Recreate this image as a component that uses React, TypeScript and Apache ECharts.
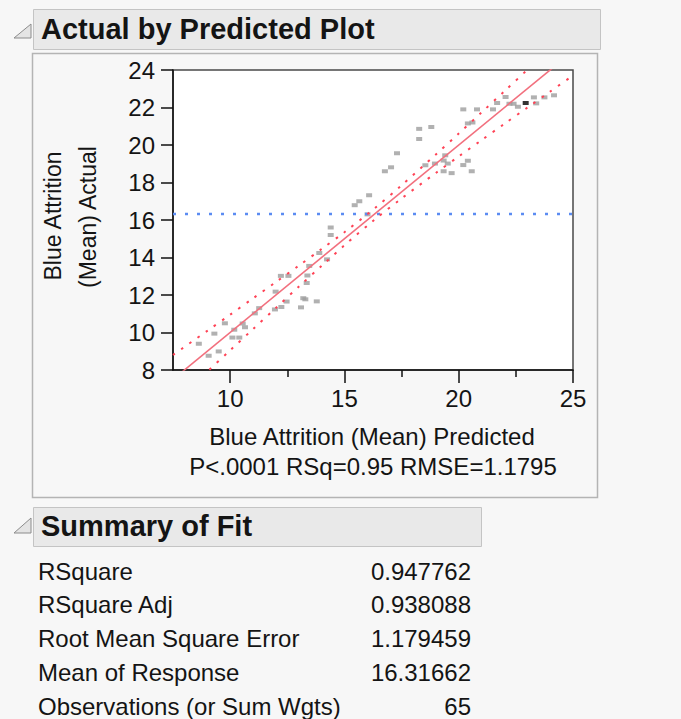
import React, { useEffect, useRef } from "react";
import * as echarts from "echarts";

// ---- data ----
const xMajorTicks = [10, 15, 20, 25];
const xMinorTicks = [12.5, 17.5, 22.5];

const predicted = [
  8.63, 9.06, 9.5, 9.31, 9.77, 10.1, 10.4, 10.18, 10.55, 10.65,
  11.08, 11.27, 11.96, 12.24, 12.47, 11.99, 12.22, 12.55, 13.1, 13.2,
  13.29, 13.79, 13.35, 13.38, 13.46, 13.9, 14.24, 14.4, 14.4, 15.45,
  15.65, 16.08, 16.01, 16.77, 17.04, 17.3, 18.27, 18.27, 18.8, 18.54,
  18.96, 19.34, 19.41, 19.52, 19.34, 19.69, 20.2, 20.4, 20.57, 20.2,
  20.8, 21.5, 20.4, 20.6, 21.68, 22.05, 22.22, 22.4, 22.59, 23.29,
  23.39, 23.75, 24.17,
];
const actual = [
  9.4, 8.76, 8.99, 9.94, 10.49, 9.73, 9.73, 10.15, 10.48, 10.28,
  11.02, 11.3, 11.23, 11.36, 11.65, 12.18, 13.02, 13.02, 11.34, 11.83,
  11.77, 11.66, 12.64, 13.04, 13.55, 14.24, 13.9, 15.2, 15.6, 16.79,
  17.0, 17.32, 16.3, 18.6, 18.81, 19.56, 20.32, 20.86, 20.96, 18.92,
  19.01, 19.17, 19.45, 19.01, 18.6, 18.5, 18.93, 19.16, 18.6, 21.9,
  21.9, 21.9, 21.15, 21.2, 22.24, 22.56, 22.2, 22.2, 22.04, 22.54,
  22.22, 22.54, 22.65,
];
const selectedPredicted = [22.93];
const selectedActual = [22.24];

const fitLineX = [7.5, 25];
const fitLineY = [7.5, 25];

const bandX = [7.5, 9, 10, 11, 12, 13, 14, 15, 16.3, 17.5, 19, 20, 21, 22, 23, 24, 25];
const upperBand = [8.8, 10.09, 10.95, 11.82, 12.69, 13.56, 14.45, 15.35, 16.6, 17.85, 19.49, 20.61, 21.74, 22.87, 24.01, 25.15, 26.29];
const lowerBand = [6.2, 7.91, 9.05, 10.18, 11.31, 12.44, 13.55, 14.65, 16.0, 17.15, 18.51, 19.39, 20.26, 21.13, 21.99, 22.85, 23.71];

const meanResponse = 16.31662;

const summaryLabels = [
  "RSquare",
  "RSquare Adj",
  "Root Mean Square Error",
  "Mean of Response",
  "Observations (or Sum Wgts)",
];
const summaryValues = ["0.947762", "0.938088", "1.179459", "16.31662", "65"];

const FONT = "'Liberation Sans', Arial, sans-serif";

export default function App() {
  const ref = useRef<HTMLDivElement>(null);

  useEffect(() => {
    if (!ref.current) return;
    const chart = echarts.init(ref.current, undefined, { renderer: "svg" });

    const tickColor = "#111";
    const rowY = [571, 604, 638, 672, 706];

    const graphic: any[] = [
      // Title header
      {
        type: "polygon",
        shape: { points: [[14, 38], [31, 24], [31, 38]] },
        style: { fill: "#e4e4e4", stroke: "#8c8c8c", lineWidth: 1 },
      },
      {
        type: "rect",
        shape: { x: 33.5, y: 9.5, width: 567, height: 40 },
        style: { fill: "#e9e9e9", stroke: "#c4c4c4", lineWidth: 1 },
      },
      {
        type: "text",
        x: 41,
        y: 29,
        style: {
          text: "Actual by Predicted Plot",
          font: `bold 29px ${FONT}`,
          fill: "#141414",
          align: "left",
          verticalAlign: "middle",
        },
      },
      // Frame around the plot
      {
        type: "rect",
        shape: { x: 32.5, y: 53.5, width: 565, height: 444 },
        style: { fill: "none", stroke: "#b4b4b4", lineWidth: 1.5 },
      },
      // Y-axis title (two lines)
      {
        type: "text",
        x: 53,
        y: 216,
        rotation: Math.PI / 2,
        style: {
          text: "Blue Attrition",
          font: `23px ${FONT}`,
          fill: "#141414",
          align: "center",
          verticalAlign: "middle",
        },
      },
      {
        type: "text",
        x: 88,
        y: 217,
        rotation: Math.PI / 2,
        style: {
          text: "(Mean) Actual",
          font: `23px ${FONT}`,
          fill: "#141414",
          align: "center",
          verticalAlign: "middle",
        },
      },
      // X-axis title and stats line
      {
        type: "text",
        x: 372,
        y: 436,
        style: {
          text: "Blue Attrition (Mean) Predicted",
          font: `24px ${FONT}`,
          fill: "#141414",
          align: "center",
          verticalAlign: "middle",
        },
      },
      {
        type: "text",
        x: 373,
        y: 466,
        style: {
          text: "P<.0001 RSq=0.95 RMSE=1.1795",
          font: `24px ${FONT}`,
          fill: "#141414",
          align: "center",
          verticalAlign: "middle",
        },
      },
      // Summary header
      {
        type: "polygon",
        shape: { points: [[14, 533], [31, 518], [31, 533]] },
        style: { fill: "#e4e4e4", stroke: "#8c8c8c", lineWidth: 1 },
      },
      {
        type: "rect",
        shape: { x: 33.5, y: 507.5, width: 448, height: 39 },
        style: { fill: "#e9e9e9", stroke: "#c4c4c4", lineWidth: 1 },
      },
      {
        type: "text",
        x: 41,
        y: 526,
        style: {
          text: "Summary of Fit",
          font: `bold 29px ${FONT}`,
          fill: "#141414",
          align: "left",
          verticalAlign: "middle",
        },
      },
    ];

    summaryLabels.forEach((lab, i) => {
      graphic.push({
        type: "text",
        x: 38,
        y: rowY[i],
        style: {
          text: lab,
          font: `24px ${FONT}`,
          fill: "#141414",
          align: "left",
          verticalAlign: "middle",
        },
      });
      graphic.push({
        type: "text",
        x: 471,
        y: rowY[i],
        style: {
          text: summaryValues[i],
          font: `24px ${FONT}`,
          fill: "#141414",
          align: "right",
          verticalAlign: "middle",
        },
      });
    });

    const option: any = {
      animation: false,
      backgroundColor: "#f7f7f7",
      textStyle: { fontFamily: FONT },
      grid: {
        left: 173,
        top: 70,
        width: 400,
        height: 300,
        show: true,
        backgroundColor: "#ffffff",
        borderColor: "#4a4a4a",
        borderWidth: 1.5,
        containLabel: false,
      },
      xAxis: [
        {
          type: "value",
          min: 7.5,
          max: 25,
          interval: 2.5,
          position: "bottom",
          axisLine: { show: true, onZero: false, lineStyle: { color: tickColor, width: 1.5 } },
          splitLine: { show: false },
          axisTick: {
            show: true,
            customValues: xMajorTicks,
            length: 13,
            lineStyle: { color: tickColor, width: 1.5 },
          },
          axisLabel: {
            customValues: xMajorTicks,
            fontSize: 24,
            color: "#141414",
            margin: 16,
            fontFamily: FONT,
          },
        },
        {
          type: "value",
          gridIndex: 0,
          min: 7.5,
          max: 25,
          interval: 2.5,
          position: "bottom",
          axisLine: { show: false, onZero: false },
          splitLine: { show: false },
          axisTick: {
            show: true,
            customValues: xMinorTicks,
            length: 7,
            lineStyle: { color: tickColor, width: 1.5 },
          },
          axisLabel: { show: false },
        },
      ],
      yAxis: {
        type: "value",
        min: 8,
        max: 24,
        interval: 2,
        axisLine: { show: true, onZero: false, lineStyle: { color: tickColor, width: 1.5 } },
        splitLine: { show: false },
        axisTick: { show: true, length: 12, lineStyle: { color: tickColor, width: 1.5 } },
        axisLabel: { fontSize: 24, color: "#141414", margin: 18, fontFamily: FONT },
      },
      graphic,
      series: [
        {
          type: "scatter",
          name: "Observations",
          symbol: "rect",
          symbolSize: [6, 4],
          itemStyle: { color: "#9e9e9e" },
          data: predicted.map((p, i) => [p, actual[i]]),
          z: 2,
        },
        {
          type: "scatter",
          name: "Selected",
          symbol: "rect",
          symbolSize: [6, 4],
          itemStyle: { color: "#000000" },
          data: selectedPredicted.map((p, i) => [p, selectedActual[i]]),
          z: 2,
        },
        {
          type: "line",
          name: "Mean",
          showSymbol: false,
          clip: true,
          lineStyle: { color: "#5b8cf2", width: 2.5, type: [3, 9] },
          data: [[7.5, meanResponse], [25, meanResponse]],
          z: 3,
        },
        {
          type: "line",
          name: "Fit",
          showSymbol: false,
          clip: true,
          lineStyle: { color: "#f2707e", width: 1.6 },
          data: fitLineX.map((x, i) => [x, fitLineY[i]]),
          z: 4,
        },
        {
          type: "line",
          name: "Upper",
          showSymbol: false,
          clip: true,
          smooth: 0.3,
          lineStyle: { color: "#ff4255", width: 2, type: [2.5, 7.5] },
          data: bandX.map((x, i) => [x, upperBand[i]]),
          z: 4,
        },
        {
          type: "line",
          name: "Lower",
          showSymbol: false,
          clip: true,
          smooth: 0.3,
          lineStyle: { color: "#ff4255", width: 2, type: [2.5, 7.5] },
          data: bandX.map((x, i) => [x, lowerBand[i]]),
          z: 4,
        },
      ],
    };

    chart.setOption(option);
    return () => chart.dispose();
  }, []);

  return (
    <div
      ref={ref}
      style={{ position: "absolute", left: 0, top: 0, width: 681, height: 719 }}
    />
  );
}
